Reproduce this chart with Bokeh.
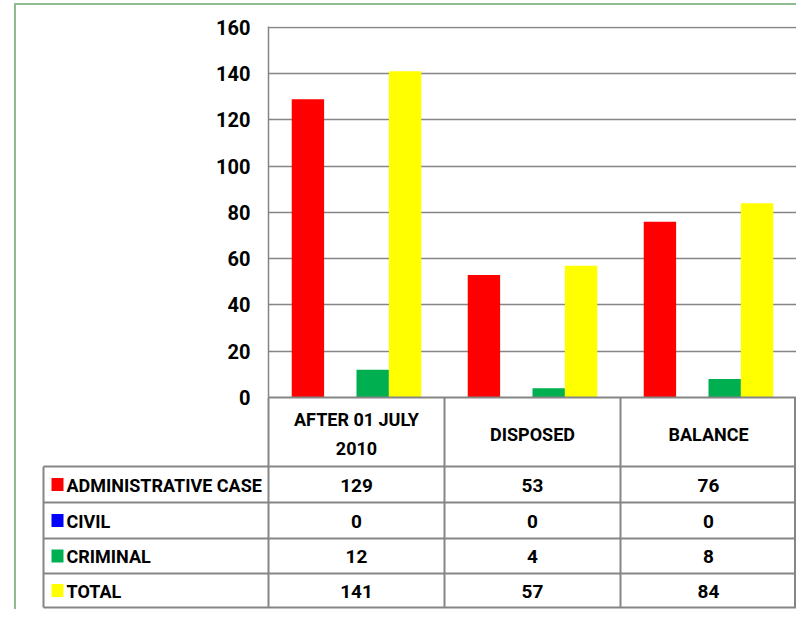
from bokeh.plotting import figure
from bokeh.models import Range1d, FixedTicker, ColumnDataSource
from bokeh.core.properties import value
from bokeh.embed import file_html
from bokeh.resources import INLINE

# ---------------- data ----------------
categories = ["AFTER 01 JULY\n2010", "DISPOSED", "BALANCE"]
series = ["ADMINISTRATIVE CASE", "CIVIL", "CRIMINAL", "TOTAL"]
administrative = [129, 53, 76]
civil = [0, 0, 0]
criminal = [12, 4, 8]
total = [141, 57, 84]
y_ticks = [0, 20, 40, 60, 80, 100, 120, 140, 160]

values = [administrative, civil, criminal, total]
colors = ["#FF0000", "#0000FF", "#00B050", "#FFFF00"]

FONT = "Roboto"
GRID = "#858585"
FRAME_GREEN = "#8fbc8f"
W, H = 796, 609
B_L, B_R, B_T = 268, 0, 26
FRAME_H = 371
B_B = H - B_T - FRAME_H
Y_END = 160.4
n = len(categories)
ppu_x = (W - B_L - B_R) / n
ppu_y = FRAME_H / Y_END
frame_bottom = B_T + FRAME_H


def px(x):
    """canvas x (px) -> data x"""
    return (x - B_L) / ppu_x


def py(y):
    """canvas y (px) -> data y"""
    return (frame_bottom - y) / ppu_y


p = figure(width=W, height=H, title=None,
           x_range=Range1d(0, n), y_range=Range1d(0, Y_END),
           output_backend="svg", toolbar_location=None,
           x_axis_location=None,
           min_border_left=B_L, min_border_right=B_R,
           min_border_top=B_T, min_border_bottom=B_B)
p.outline_line_color = None

# ---------------- bars ----------------
offsets = [-0.276, -0.092, 0.092, 0.276]
bar_w = 0.184
for vals, col, off in zip(values, colors, offsets):
    src = ColumnDataSource(dict(x=[i + 0.5 + off for i in range(n)], top=vals))
    p.vbar(x="x", top="top", bottom=0, width=bar_w, source=src,
           fill_color=col, line_color=None)

ya = p.yaxis[0]
ya.ticker = FixedTicker(ticks=y_ticks)
ya.major_tick_out = 0
ya.major_tick_in = 0
ya.minor_tick_out = 0
ya.minor_tick_in = 0
ya.axis_line_color = GRID
ya.axis_line_width = 1.5
ya.major_label_text_font = FONT
ya.major_label_text_font_style = "bold"
ya.major_label_text_font_size = "20px"
ya.major_label_text_color = "black"
ya.major_label_standoff = 18

p.ygrid.ticker = FixedTicker(ticks=y_ticks)
p.ygrid.grid_line_color = GRID
p.ygrid.grid_line_width = 1.7
p.xgrid.grid_line_color = None


def over(r):
    r.level = "overlay"
    return r


# outer green frame (left + top edges of the surrounding box)
over(p.segment(x0=[px(14.5), px(13.5)], y0=[py(3), py(3.5)],
               x1=[px(14.5), px(W + 10)], y1=[py(H + 10), py(3.5)],
               line_color=FRAME_GREEN, line_width=2))

# ---------------- data table below the plot ----------------
row_lines_px = [466, 502, 538, 573, 607]
row_lines = [py(v) for v in row_lines_px]
row_centers = [py((row_lines_px[k] + row_lines_px[k + 1]) / 2 + 0.5)
               for k in range(len(series))]
header_center = py((frame_bottom + row_lines_px[0]) / 2 + 2)

over(p.segment(x0=[px(43)] * len(row_lines), y0=row_lines,
               x1=[n] * len(row_lines), y1=row_lines,
               line_color=GRID, line_width=2))
over(p.segment(x0=[0], y0=[0], x1=[n], y1=[0], line_color=GRID, line_width=2))
over(p.segment(x0=[px(43)], y0=[row_lines[0]], x1=[px(43)], y1=[row_lines[-1]],
               line_color=GRID, line_width=2))
over(p.segment(x0=list(range(n)) + [px(W - 1.5)], y0=[0] * (n + 1),
               x1=list(range(n)) + [px(W - 1.5)], y1=[row_lines[-1]] * (n + 1),
               line_color=GRID, line_width=2))

# header (category names)
over(p.text(x=[i + 0.5 for i in range(n)], y=[header_center] * n, text=categories,
            text_align="center", text_baseline="middle",
            text_font=value(FONT), text_font_style="bold",
            text_font_size="18px", text_line_height=1.4, text_color="black"))

# legend keys + row names
over(p.quad(left=[px(51)] * len(series), right=[px(63)] * len(series),
            top=[c + 7 / ppu_y for c in row_centers],
            bottom=[c - 6 / ppu_y for c in row_centers],
            fill_color=colors, line_color=None))
over(p.text(x=[px(66)] * len(series), y=row_centers, text=series,
            text_align="left", text_baseline="middle",
            text_font=value(FONT), text_font_style="bold",
            text_font_size="18px", text_color="black"))

# cell values
cx, cy, ct = [], [], []
for r, vals in enumerate(values):
    for i, v in enumerate(vals):
        cx.append(i + 0.5)
        cy.append(row_centers[r])
        ct.append(str(v))
over(p.text(x=cx, y=cy, text=ct, text_align="center", text_baseline="middle",
            text_font=value(FONT), text_font_style="bold",
            text_font_size="19px", text_color="black"))

open("out.html", "w").write(file_html(p, INLINE))
